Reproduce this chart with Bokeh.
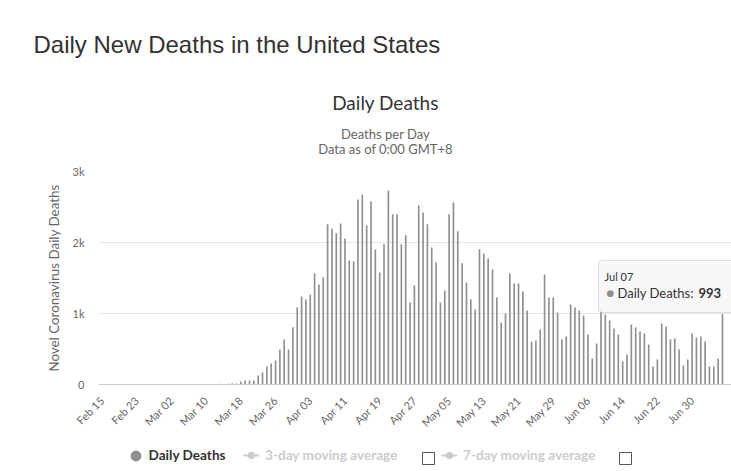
import math
import pandas as pd
from bokeh.plotting import figure
from bokeh.layouts import column
from bokeh.models import (Range1d, FixedTicker, Label, BoxAnnotation, Legend,
                          LegendItem, Title)
from bokeh.embed import file_html
from bokeh.resources import INLINE

# ---------------- data ----------------
start_date = "2020-02-15"
daily_deaths = [
    0, 0, 0, 0, 0, 0, 0, 0, 0, 0, 0, 0, 0, 0,            # Feb 15 - Feb 28
    1,                                                   # Feb 29
    1, 5, 1, 4, 1, 2, 3, 4, 4, 5, 8, 7, 10, 8, 12,       # Mar 01 - Mar 15
    15, 15, 42, 56, 56, 56, 127, 169, 254, 296, 338, 493, 634, 493, 808, 1085,
    1239, 1197, 1268, 1563, 1408, 1507,                  # .. Apr 06
    2258, 2192, 2131, 2268, 2056, 1746, 1732, 2606, 2676, 2239, 2577, 1901,
    1577, 1977, 2732, 2399, 2399, 1977, 2103, 1155, 1394, 2521, 2423,   # .. Apr 29
    2258, 1930, 1723, 1155, 1324, 2399, 2563, 2160, 1709, 1437, 1197, 1056,
    1906, 1845, 1775, 1620, 1225, 873, 1000, 1563, 1423, 1423, 1310,    # .. May 22
    1042, 606, 620, 775, 1549, 1225, 1225, 1014, 634, 676, 1127, 1085, 1042,
    972, 704, 366, 577, 1085, 986, 901, 789, 704, 324,                  # .. Jun 14
    423, 845, 803, 746, 718, 563, 254, 352, 859, 817, 634, 648, 493, 268,
    352, 718, 662, 676, 606, 254, 254, 366, 993,                        # .. Jul 07
]
tick_labels = ["Feb 15", "Feb 23", "Mar 02", "Mar 10", "Mar 18", "Mar 26",
               "Apr 03", "Apr 11", "Apr 19", "Apr 27", "May 05", "May 13",
               "May 21", "May 29", "Jun 06", "Jun 14", "Jun 22", "Jun 30"]
tick_step_days = 8
y_tick_values = [0, 1000, 2000, 3000]
y_tick_labels = ["0", "1k", "2k", "3k"]

page_title = "Daily New Deaths in the United States"
chart_title = "Daily Deaths"
chart_subtitle_1 = "Deaths per Day"
chart_subtitle_2 = "Data as of 0:00 GMT+8"
y_axis_title = "Novel Coronavirus Daily Deaths"
series_name = "Daily Deaths"
ma3_name = "3-day moving average"
ma7_name = "7-day moving average"

days = list(range(len(daily_deaths)))
dates = pd.date_range(start_date, periods=len(daily_deaths))
ma3 = pd.Series(daily_deaths).rolling(3).mean().tolist()
ma7 = pd.Series(daily_deaths).rolling(7).mean().tolist()

# ---------------- styles ----------------
FONT = "Lato"
BAR = "#8f8f8f"
GRID = "#e6e6e6"
LABEL = "#666666"
DARK = "#333333"
HIDDEN = "#cccccc"
W = 731
FRAME_LEFT = 98


def blank(height, **kw):
    f = figure(width=W, height=height, output_backend="svg",
               toolbar_location=None, min_border=0,
               x_axis_type=None, y_axis_type=None,
               x_range=Range1d(0, 1), y_range=Range1d(0, 1), **kw)
    f.outline_line_color = None
    f.xgrid.visible = False
    f.ygrid.visible = False
    return f


# ---------------- header (titles) ----------------
head_title = Title(text=page_title, align="left", offset=33 - FRAME_LEFT,
                   vertical_align="middle", standoff=58,
                   text_font="Liberation Sans", text_font_size="24px",
                   text_font_style="normal", text_color=DARK)
head = blank(158, title=head_title, min_border_top=84)
cx = 385 - FRAME_LEFT
head.add_layout(Label(x=cx, y=56, x_units="screen", y_units="screen",
                      text=chart_title, text_font=FONT, text_font_size="19px",
                      text_color=DARK, text_align="center",
                      text_baseline="middle"))
head.add_layout(Label(x=cx, y=25, x_units="screen", y_units="screen",
                      text=chart_subtitle_1, text_font=FONT,
                      text_font_size="13px", text_color=LABEL,
                      text_align="center", text_baseline="middle"))
head.add_layout(Label(x=cx, y=10, x_units="screen", y_units="screen",
                      text=chart_subtitle_2, text_font=FONT,
                      text_font_size="13px", text_color=LABEL,
                      text_align="center", text_baseline="middle"))

# ---------------- main chart ----------------
p = figure(width=W, height=282, output_backend="svg", toolbar_location=None,
           title=None,
           x_range=Range1d(-0.8, days[-1] + 2.08),
           y_range=Range1d(y_tick_values[0], y_tick_values[-1]),
           min_border_left=FRAME_LEFT, min_border_right=0, min_border_top=13,
           min_border_bottom=56)
p.outline_line_color = None
p.background_fill_color = "white"
p.border_fill_color = "white"

p.vbar(x=days, top=daily_deaths, width=0.38, fill_color=BAR, line_color=None)

xt = [i * tick_step_days for i in range(len(tick_labels))]
p.xaxis.ticker = FixedTicker(ticks=xt)
p.xaxis.major_label_overrides = {t: l for t, l in zip(xt, tick_labels)}
p.xaxis.major_label_orientation = math.pi / 4
p.xaxis.axis_line_color = "#cccccc"
p.xaxis.major_tick_line_color = None
p.xaxis.minor_tick_line_color = None
p.xaxis.major_tick_out = 0
p.xaxis.major_tick_in = 0
p.xaxis.major_label_standoff = 14
p.xaxis.major_label_text_font = FONT
p.xaxis.major_label_text_font_size = "11px"
p.xaxis.major_label_text_color = LABEL

p.yaxis.ticker = FixedTicker(ticks=y_tick_values)
p.yaxis.major_label_overrides = {v: l for v, l in zip(y_tick_values, y_tick_labels)}
p.yaxis.axis_line_color = None
p.yaxis.major_tick_line_color = None
p.yaxis.minor_tick_line_color = None
p.yaxis.major_tick_out = 0
p.yaxis.major_tick_in = 0
p.yaxis.major_label_standoff = 14
p.yaxis.major_label_text_font = FONT
p.yaxis.major_label_text_font_size = "11px"
p.yaxis.major_label_text_color = LABEL
p.yaxis.axis_label = y_axis_title
p.yaxis.axis_label_text_font = FONT
p.yaxis.axis_label_text_font_size = "13.4px"
p.yaxis.axis_label_text_font_style = "normal"
p.yaxis.axis_label_text_color = LABEL
p.yaxis.axis_label_standoff = 8

p.xgrid.grid_line_color = None
p.ygrid.grid_line_color = GRID

# tooltip for the last point (screen units relative to the plot frame)
p.add_layout(BoxAnnotation(left=500, right=660, top=124, bottom=72,
                           left_units="screen", right_units="screen",
                           top_units="screen", bottom_units="screen",
                           fill_color="#f7f7f7", fill_alpha=0.9,
                           line_color="#999999", line_width=1,
                           border_radius=3))
p.add_layout(Label(x=506, y=108, x_units="screen", y_units="screen",
                   text=dates[-1].strftime("%b %d"), text_font=FONT,
                   text_font_size="11px", text_color=DARK,
                   text_baseline="middle"))
p.add_layout(Label(x=512, y=92, x_units="screen", y_units="screen",
                   text="\u25cf", text_font="DejaVu Sans", text_font_size="9px",
                   text_color=BAR, text_align="center", text_baseline="middle"))
p.add_layout(Label(x=519, y=92, x_units="screen", y_units="screen",
                   text=series_name + ":", text_font=FONT,
                   text_font_size="13px", text_color=DARK,
                   text_baseline="middle"))
p.add_layout(Label(x=600, y=92, x_units="screen", y_units="screen",
                   text=str(daily_deaths[-1]), text_font=FONT,
                   text_font_size="13px", text_font_style="bold",
                   text_color=DARK, text_baseline="middle"))

# ---------------- footer (legend) ----------------
foot = blank(31, title=None)
r_dot = foot.scatter(days, daily_deaths, marker="circle", color=BAR, visible=False)
r_ma3_l = foot.line(days, ma3, color=HIDDEN, line_width=2, visible=False)
r_ma3_p = foot.scatter(days, ma3, marker="circle", color=HIDDEN, visible=False)
r_ma7_l = foot.line(days, ma7, color=HIDDEN, line_width=2, visible=False)
r_ma7_p = foot.scatter(days, ma7, marker="circle", color=HIDDEN, visible=False)
r_box = foot.scatter(days, ma7, marker="square", fill_color="white",
                     line_color="#555555", line_width=1, visible=False)


def make_legend(items, page_x, y, glyph, standoff, color):
    lg = Legend(items=items, location=(page_x - FRAME_LEFT, y),
                orientation="horizontal",
                glyph_width=glyph, glyph_height=glyph, label_height=glyph,
                label_standoff=standoff, padding=0, margin=0, spacing=0,
                background_fill_alpha=0, border_line_alpha=0,
                label_text_font=FONT, label_text_font_size="13.6px",
                label_text_font_style="bold", label_text_color=color,
                click_policy="none")
    foot.add_layout(lg)


make_legend([LegendItem(label=series_name, renderers=[r_dot])], 122.5, 3.5, 25, 1, DARK)
make_legend([LegendItem(label=ma3_name, renderers=[r_ma3_l, r_ma3_p])], 243, 8, 16, 6, HIDDEN)
make_legend([LegendItem(label=ma7_name, renderers=[r_ma7_l, r_ma7_p])], 441, 8, 16, 6, HIDDEN)
make_legend([LegendItem(label=" ", renderers=[r_box])], 413, -2, 30, 0, HIDDEN)
make_legend([LegendItem(label=" ", renderers=[r_box])], 610, -2, 30, 0, HIDDEN)

layout = column(head, p, foot, spacing=0)
open("out.html", "w").write(file_html(layout, INLINE))
